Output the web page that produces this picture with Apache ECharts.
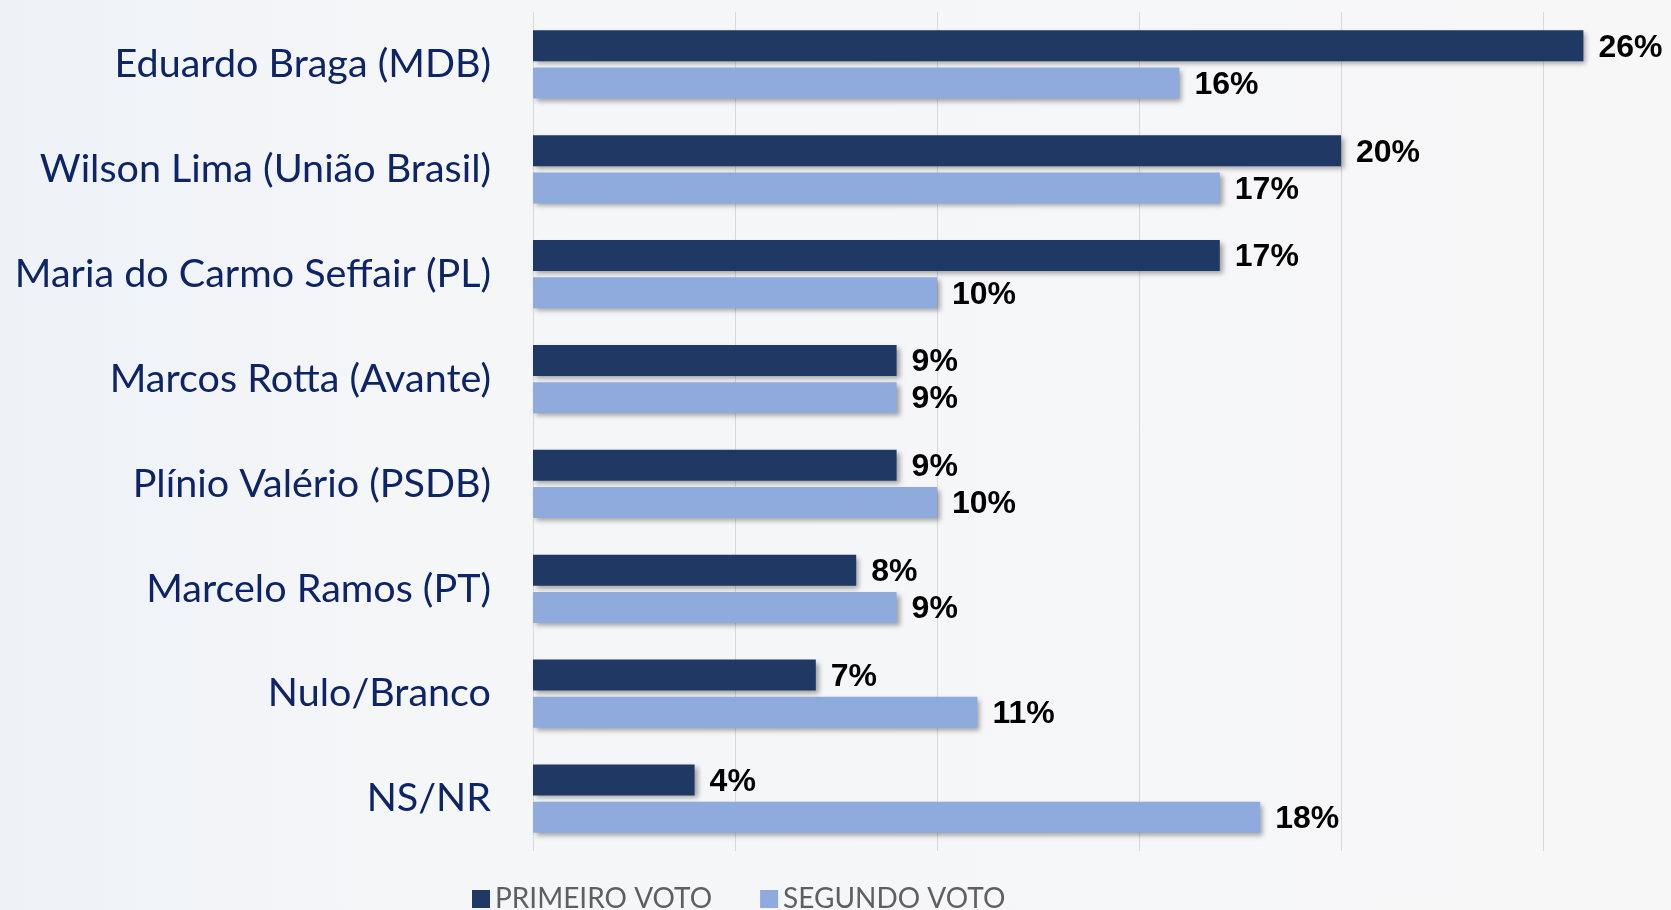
<!DOCTYPE html>
<html>
<head>
<meta charset="utf-8">
<script src="https://cdn.jsdelivr.net/npm/echarts@6/dist/echarts.min.js"></script>
<style>
html,body{margin:0;padding:0;background:#f5f6f8;}
#chart{width:1671px;height:910px;}
</style>
</head>
<body>
<div id="chart"></div>
<script>
const categories = [
  "Eduardo Braga (MDB)",
  "Wilson Lima (União Brasil)",
  "Maria do Carmo Seffair (PL)",
  "Marcos Rotta (Avante)",
  "Plínio Valério (PSDB)",
  "Marcelo Ramos (PT)",
  "Nulo/Branco",
  "NS/NR"
];
const primeiroVoto = [26, 20, 17, 9, 9, 8, 7, 4];
const segundoVoto = [16, 17, 10, 9, 10, 9, 11, 18];
const seriesNames = ["PRIMEIRO VOTO", "SEGUNDO VOTO"];

const chart = echarts.init(document.getElementById('chart'));
const barShadow = {shadowColor:'rgba(0,0,0,0.35)', shadowBlur:5, shadowOffsetX:3, shadowOffsetY:3};
const labelStyle = {
  show: true, position: 'right', distance: 15, offset: [0, 2],
  formatter: '{c}%',
  color: '#000', fontWeight: 'bold', fontSize: 32,
  fontFamily: "'Liberation Sans', Arial, sans-serif"
};
chart.setOption({
  backgroundColor: {
    type: 'linear', x: 0, y: 0, x2: 1, y2: 0,
    colorStops: [{offset:0, color:'#eef2f7'}, {offset:0.25, color:'#f5f6f8'}, {offset:1, color:'#f7f7f8'}]
  },
  animation: false,
  legend: {
    data: seriesNames,
    left: 467, top: 880,
    itemWidth: 18, itemHeight: 18, itemGap: 48,
    icon: 'rect',
    textStyle: {color:'#5f5f5f', fontSize: 28, fontFamily: "Lato, 'Open Sans', sans-serif"}
  },
  grid: {left: 533, top: 12, width: 1212, height: 839, outerBoundsMode: 'none', containLabel: false},
  xAxis: {
    type: 'value', min: 0, max: 30, interval: 5,
    axisLabel: {show: false},
    axisLine: {show: false},
    axisTick: {show: false},
    splitLine: {show: true, lineStyle: {color: '#d9d9d9', width: 1}}
  },
  yAxis: {
    type: 'category', data: categories, inverse: true,
    axisLine: {show: false},
    axisTick: {show: false},
    axisLabel: {color: '#0d2466', fontSize: 39.5, margin: 42, fontFamily: "Lato, 'Open Sans', sans-serif"}
  },
  series: [
    {name: seriesNames[0], type: 'bar', data: primeiroVoto, barWidth: 31, barGap: '20%',
     itemStyle: Object.assign({color: '#203864'}, barShadow), label: labelStyle},
    {name: seriesNames[1], type: 'bar', data: segundoVoto, barWidth: 31, barGap: '20%',
     itemStyle: Object.assign({color: '#8faadc'}, barShadow), label: labelStyle}
  ]
});
</script>
</body>
</html>
